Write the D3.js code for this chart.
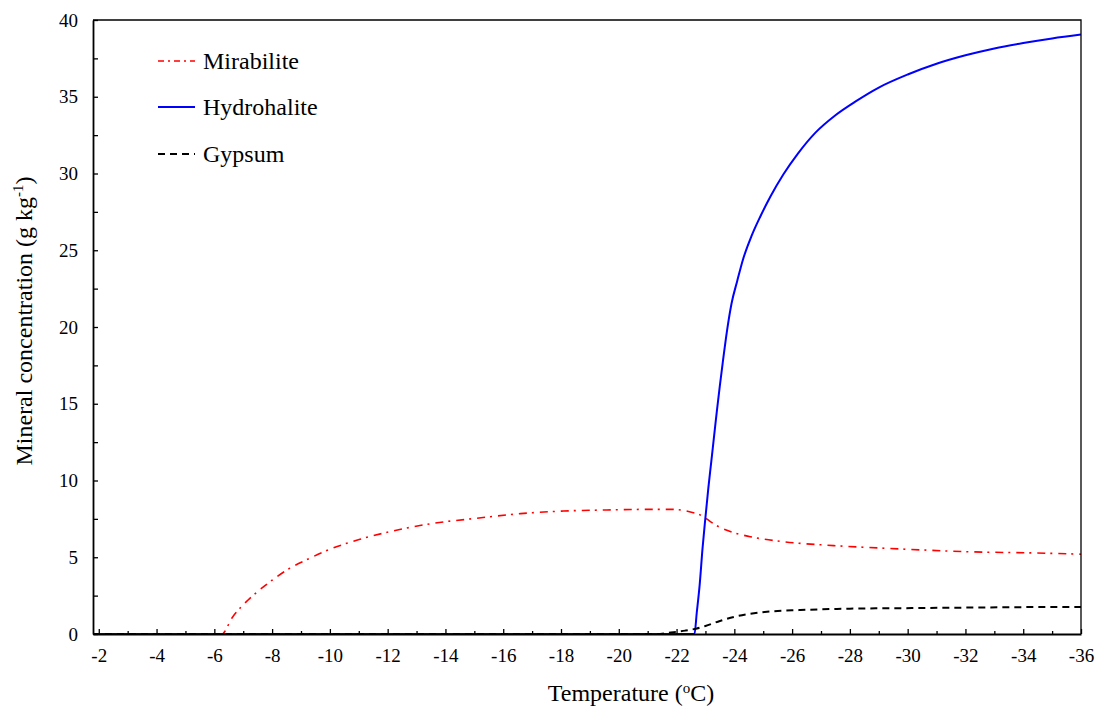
<!DOCTYPE html>
<html>
<head>
<meta charset="utf-8">
<script src="https://cdn.jsdelivr.net/npm/d3@7"></script>
<style>
  html, body { margin: 0; padding: 0; background: #fff; }
  svg { display: block; }
  svg text { font-family: "Liberation Serif", "DejaVu Serif", "Times New Roman", serif !important; fill: #000; }
</style>
</head>
<body>
<svg id="chart" width="1095" height="706"></svg>
<script>
// Temperature (°C) and mineral concentration (g/kg) for each mineral
const mirabiliteT = [-1.8, -6.25, -6.64, -7.16, -7.74, -8.61, -9.3, -10.0, -11.04, -12.08, -13.58, -15.08, -16.6, -18.08, -19.59, -21.09, -21.84, -22.48, -22.94, -23.17, -23.5, -23.86, -24.55, -25.71, -27.44, -29.75, -32.07, -34.38, -36];
const mirabiliteV = [0, 0, 1.13, 2.2, 3.13, 4.28, 4.93, 5.52, 6.17, 6.67, 7.21, 7.54, 7.84, 8.01, 8.08, 8.12, 8.12, 7.95, 7.64, 7.32, 6.95, 6.67, 6.34, 6.01, 5.76, 5.54, 5.36, 5.28, 5.2];

const hydrohaliteT = [-1.8, -22.62, -22.7, -22.8, -22.9, -23.0, -23.1, -23.2, -23.3, -23.4, -23.5, -23.6, -23.75, -23.9, -24.1, -24.3, -24.6, -24.9, -25.25, -25.7, -26.2, -26.8, -27.5, -28.2, -29.0, -30.0, -31.0, -32.0, -33.0, -34.0, -35.0, -36.0];
const hydrohaliteV = [0, 0, 1.4, 3.2, 5.6, 7.6, 9.5, 11.2, 12.9, 14.6, 16.2, 17.7, 19.8, 21.5, 23.0, 24.4, 25.95, 27.2, 28.5, 29.95, 31.3, 32.65, 33.8, 34.7, 35.6, 36.45, 37.15, 37.7, 38.15, 38.5, 38.8, 39.05];

const gypsumT = [-1.8, -21.3, -21.8, -22.3, -22.7, -23.0, -23.5, -24.0, -24.5, -25.13, -26.29, -27.0, -28.0, -30.3, -32.6, -34.0, -36];
const gypsumV = [0, 0, 0.1, 0.22, 0.36, 0.52, 0.85, 1.12, 1.3, 1.45, 1.56, 1.61, 1.65, 1.69, 1.73, 1.75, 1.76];

const xTicks = d3.range(-2, -37, -1);       // -2 … -36, labels on even values
const yTicks = d3.range(0, 40.01, 2.5);     // labels on multiples of 5
const legendNames = ["Mirabilite", "Hydrohalite", "Gypsum"];

const svg = d3.select("#chart");
const margin = { left: 93, right: 14, top: 20, bottom: 72 };
const W = 1095, H = 706;
const x = d3.scaleLinear().domain([-1.8, -36]).range([margin.left, W - margin.right]);
const y = d3.scaleLinear().domain([0, 40]).range([H - margin.bottom, margin.top]);

const series = [
  { name: legendNames[0], t: mirabiliteT, v: mirabiliteV, color: "#ff0000", width: 1.6, dash: "8,5,2,6", legendDash: "6,4,2,4" },
  { name: legendNames[1], t: hydrohaliteT, v: hydrohaliteV, color: "#0000ff", width: 2, dash: null, legendDash: null },
  { name: legendNames[2], t: gypsumT, v: gypsumV, color: "#000000", width: 2, dash: "7,5", legendDash: "7,5" }
];

const line = d3.line()
  .x(d => x(d[0]))
  .y(d => y(d[1]))
  .curve(d3.curveMonotoneX);

const plot = svg.append("g");
series.forEach(s => {
  const pts = s.t.map((t, i) => [t, s.v[i]]);
  plot.append("path")
    .attr("d", line(pts))
    .attr("fill", "none")
    .attr("stroke", s.color)
    .attr("stroke-width", s.width)
    .attr("stroke-dasharray", s.dash);
});

// Frame: top and right borders
svg.append("path")
  .attr("d", `M${x.range()[0]},${y(40)}H${x.range()[1]}V${y(0)}`)
  .attr("fill", "none").attr("stroke", "#000").attr("stroke-width", 1.3);

// X axis with inward ticks
const xAxis = d3.axisBottom(x)
  .tickValues(xTicks)
  .tickSizeInner(0).tickSizeOuter(0)
  .tickFormat(d => (Math.abs(d) % 2 === 0 ? String(d) : ""));
const gx = svg.append("g").attr("transform", `translate(0,${y(0)})`).call(xAxis);
gx.select(".domain").attr("stroke", "#000").attr("stroke-width", 1.8);
gx.selectAll(".tick line")
  .attr("y2", d => (Math.abs(d) % 2 === 0 ? -5 : -3))
  .attr("stroke", "#000").attr("stroke-width", 1.3);
gx.selectAll(".tick text")
  .attr("y", 15).attr("dy", "0.71em")
  .style("font-size", "19px");

// Y axis with inward ticks
const yAxis = d3.axisLeft(y)
  .tickValues(yTicks)
  .tickSizeInner(0).tickSizeOuter(0)
  .tickFormat(d => (d % 5 === 0 ? String(d) : ""));
const gy = svg.append("g").attr("transform", `translate(${x.range()[0]},0)`).call(yAxis);
gy.select(".domain").attr("stroke", "#000").attr("stroke-width", 1.8);
gy.selectAll(".tick line").attr("x2", 5).attr("stroke", "#000").attr("stroke-width", 1.3);
gy.selectAll(".tick text")
  .attr("x", -15)
  .style("font-size", "19px");

// Axis titles
const xt = svg.append("text")
  .attr("x", 631).attr("y", 701)
  .attr("text-anchor", "middle").style("font-size", "24px");
xt.append("tspan").text("Temperature (");
xt.append("tspan").text("o").style("font-size", "15px").attr("dy", -8);
xt.append("tspan").text("C)").attr("dy", 8);

const yt = svg.append("text")
  .attr("transform", `translate(32,${321}) rotate(-90)`)
  .attr("text-anchor", "middle").style("font-size", "24px");
yt.append("tspan").text("Mineral concentration (g kg");
yt.append("tspan").text("-1").style("font-size", "15px").attr("dy", -9);
yt.append("tspan").text(")").attr("dy", 9);

// Legend
const legendY = [61, 107, 154];
series.forEach((s, i) => {
  const g = svg.append("g");
  g.append("line")
    .attr("x1", 158).attr("x2", 195)
    .attr("y1", legendY[i]).attr("y2", legendY[i])
    .attr("stroke", s.color).attr("stroke-width", s.width)
    .attr("stroke-dasharray", s.legendDash);
  g.append("text")
    .attr("x", 203).attr("y", legendY[i]).attr("dy", "0.33em")
    .style("font-size", "24px")
    .text(s.name);
});
</script>
</body>
</html>
